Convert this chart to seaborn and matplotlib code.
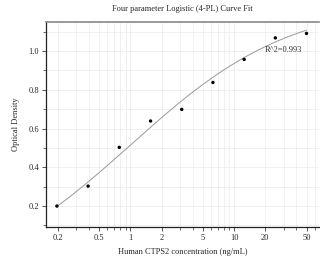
import numpy as np
import pandas as pd
import seaborn as sns
import matplotlib
matplotlib.use("Agg")
import matplotlib.pyplot as plt
from matplotlib.ticker import FixedLocator, NullFormatter, LogLocator

# Data
concentration = [0.195, 0.39, 0.78, 1.5625, 3.125, 6.25, 12.5, 25, 50]
optical_density = [0.200, 0.303, 0.503, 0.639, 0.699, 0.838, 0.957, 1.068, 1.091]
# estimated 4PL fit parameters (A, B, C, D)
fit_A, fit_B, fit_C, fit_D = -0.23, 0.556, 1.0, 1.26
r2_text = "R^2=0.993"
x_tick_values = [0.2, 0.5, 1, 2, 5, 10, 20, 50]
x_tick_labels = ["0.2", "0.5", "1", "2", "5", "10", "20", "50"]
y_tick_values = [0.2, 0.4, 0.6, 0.8, 1.0]

sns.set_theme(style="white")
plt.rcParams['font.family'] = ['Liberation Serif', 'DejaVu Serif']

fig = plt.figure(figsize=(3.2, 2.64), dpi=100)
ax = fig.add_axes([46/320, 1-227/264, (319-46)/320, (227-22)/264])

xs = np.logspace(np.log10(min(concentration)), np.log10(max(concentration)), 200)
ys = fit_D + (fit_A - fit_D) / (1 + (xs / fit_C) ** fit_B)
curve = pd.DataFrame({"x": xs, "y": ys})
pts = pd.DataFrame({"x": concentration, "y": optical_density})

sns.lineplot(data=curve, x="x", y="y", ax=ax, color="#999999", linewidth=0.7)
sns.scatterplot(data=pts, x="x", y="y", ax=ax, color="black", s=6, edgecolor="none", zorder=5)

ax.set_xscale("log")
ax.set_xlim(0.153, 66)
ax.set_ylim(0.092, 1.15)

ax.xaxis.set_major_locator(FixedLocator(x_tick_values))
ax.set_xticklabels(x_tick_labels)
ax.xaxis.set_minor_locator(LogLocator(base=10, subs=np.arange(1, 10)))
ax.xaxis.set_minor_formatter(NullFormatter())
ax.yaxis.set_major_locator(FixedLocator(y_tick_values))
ax.set_yticklabels([f"{v:.1f}" for v in y_tick_values])
ax.yaxis.set_minor_locator(FixedLocator(np.round(np.arange(0.1, 1.15, 0.1), 2)))

ax.grid(True, which="both", color="#ebebeb", linewidth=0.5)
ax.set_axisbelow(True)

ax.tick_params(axis="both", which="major", labelsize=6, length=3, width=0.6, color="#333333", pad=2, direction="out")
ax.tick_params(axis="both", which="minor", length=2, width=0.5, color="#333333", direction="out")
ax.tick_params(bottom=True, left=True, which="both")

for s in ["left", "bottom"]:
    ax.spines[s].set_color("#222222")
    ax.spines[s].set_linewidth(0.9)
ax.spines["top"].set_color("#888888")
ax.spines["top"].set_linewidth(1.2)
ax.spines["right"].set_visible(False)

ax.set_xlabel("Human CTPS2 concentration (ng/mL)", fontsize=6, labelpad=4)
ax.set_ylabel("Optical Density", fontsize=6, labelpad=6)
ax.set_title("Four parameter Logistic (4-PL) Curve Fit", fontsize=6, pad=8)

ax.text(45, 1.005, r2_text, fontsize=6, ha="right", va="center", color="#333333")

fig.savefig("out.png", dpi=100)
